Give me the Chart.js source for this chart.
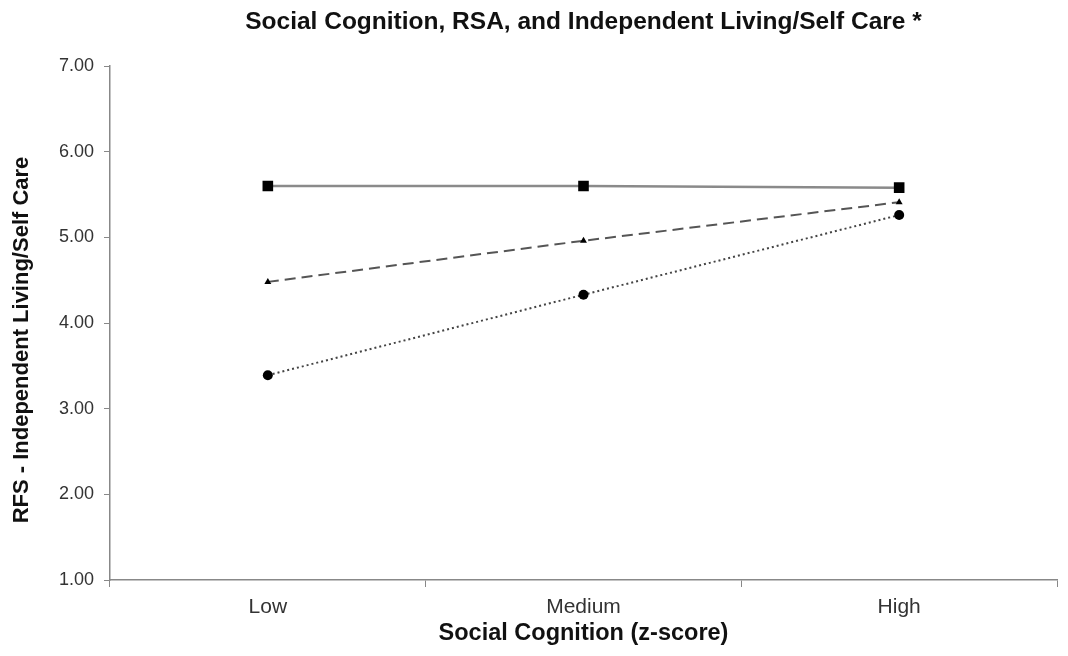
<!DOCTYPE html>
<html>
<head>
<meta charset="utf-8">
<script src="https://cdn.jsdelivr.net/npm/chart.js@4/dist/chart.umd.min.js"></script>
<style>
  html, body { margin: 0; padding: 0; background: #fff; }
  #wrap { width: 1068px; height: 656px; }
</style>
</head>
<body>
<div id="wrap"><canvas id="c" width="1068" height="656"></canvas></div>
<script>
// Social cognition level on the x axis
const categories = ['Low', 'Medium', 'High'];
// Predicted RFS Independent Living/Self Care at three RSA levels
const rsaHigh = [5.60, 5.60, 5.58];
const rsaMean = [4.48, 4.96, 5.41];
const rsaLow  = [3.39, 4.33, 5.26];
const yTicks  = [1, 2, 3, 4, 5, 6, 7];
const yTitle  = 'RFS - Independent Living/Self Care';

const FONT = '"Liberation Sans", Arial, Helvetica, sans-serif';

// Vertical axis title, set a little below the middle of the axis
const yTitlePlugin = {
  id: 'yTitle',
  afterDraw(chart) {
    const { ctx, chartArea } = chart;
    ctx.save();
    ctx.translate(22, (chartArea.top + chartArea.bottom) / 2 + 17);
    ctx.rotate(-Math.PI / 2);
    ctx.font = 'bold 22px ' + FONT;
    ctx.fillStyle = '#111';
    ctx.textAlign = 'center';
    ctx.textBaseline = 'middle';
    ctx.fillText(yTitle, 0, 0);
    ctx.restore();
  }
};

new Chart(document.getElementById('c'), {
  type: 'line',
  data: {
    labels: categories,
    datasets: [
      {
        data: rsaHigh,
        xAxisID: 'x',
        yAxisID: 'y',
        borderColor: '#8a8a8a',
        borderWidth: 2.5,
        pointStyle: 'rect',
        pointRadius: 7.5,
        pointBackgroundColor: '#000',
        pointBorderColor: '#000',
        pointBorderWidth: 0
      },
      {
        data: rsaMean,
        xAxisID: 'x',
        yAxisID: 'y',
        borderColor: '#555',
        borderWidth: 2,
        borderDash: [11, 6],
        pointStyle: 'triangle',
        pointRadius: 4,
        pointBackgroundColor: '#000',
        pointBorderColor: '#000',
        pointBorderWidth: 0
      },
      {
        data: rsaLow,
        xAxisID: 'x',
        yAxisID: 'y',
        borderColor: '#444',
        borderWidth: 2,
        borderDash: [2, 3],
        pointStyle: 'circle',
        pointRadius: 5,
        pointBackgroundColor: '#000',
        pointBorderColor: '#000',
        pointBorderWidth: 0
      }
    ]
  },
  options: {
    responsive: false,
    animation: false,
    devicePixelRatio: 1,
    layout: { padding: { left: 0, right: 11, top: 0, bottom: 0 } },
    plugins: {
      legend: { display: false },
      tooltip: { enabled: false }
    },
    scales: {
      x: {
        type: 'category',
        position: 'bottom',
        offset: true,
        grid: { display: true, drawOnChartArea: false, drawTicks: true, tickLength: 7, color: '#888', offset: true },
        border: { display: true, color: '#888', width: 1.5 },
        ticks: { color: '#333', font: { family: FONT, size: 21 }, padding: 8 },
        title: {
          display: true,
          text: 'Social Cognition (z-score)',
          color: '#111',
          font: { family: FONT, size: 23.5, weight: 'bold' },
          padding: { top: 0, bottom: 8 }
        },
        afterFit: s => { s.height = 76; }
      },
      // top axis carries only the heading, centred over the plot area
      top: {
        type: 'category',
        position: 'top',
        offset: true,
        grid: { display: false },
        border: { display: false },
        ticks: { display: false },
        title: {
          display: true,
          text: 'Social Cognition, RSA, and Independent Living/Self Care *',
          color: '#111',
          font: { family: FONT, size: 24.5, weight: 'bold' },
          padding: { top: 8, bottom: 0 }
        },
        afterFit: s => { s.height = 66; }
      },
      y: {
        min: 1,
        max: 7,
        afterBuildTicks: s => { s.ticks = yTicks.map(v => ({ value: v })); },
        grid: { display: true, drawOnChartArea: false, drawTicks: true, tickLength: 6, color: '#888' },
        border: { display: true, color: '#888', width: 1.5 },
        ticks: {
          color: '#333',
          font: { family: FONT, size: 18 },
          padding: 10,
          callback: v => Number(v).toFixed(2)
        },
        title: { display: false },
        afterFit: s => { s.width = 110; }
      }
    }
  },
  plugins: [yTitlePlugin]
});
</script>
</body>
</html>
